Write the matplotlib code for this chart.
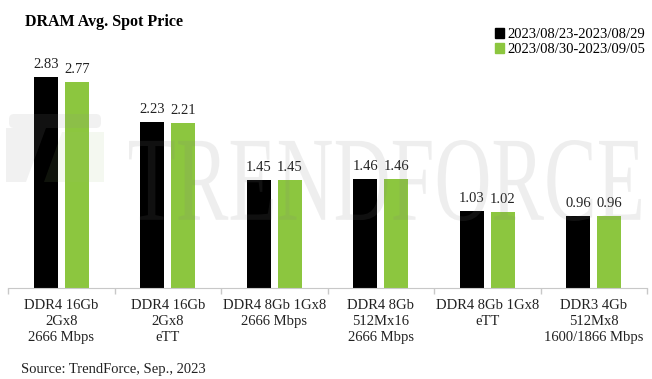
import matplotlib
matplotlib.use("Agg")
import matplotlib.pyplot as plt
from matplotlib.patches import Patch, PathPatch, Polygon, FancyBboxPatch
from matplotlib.textpath import TextPath
from matplotlib.font_manager import FontProperties
from matplotlib.transforms import Affine2D
import numpy as np

plt.rcParams['font.family'] = ['Liberation Serif', 'DejaVu Serif']

categories = ["DDR4 16Gb\n2Gx8\n2666 Mbps", "DDR4 16Gb\n2Gx8\neTT", "DDR4 8Gb 1Gx8\n2666 Mbps",
              "DDR4 8Gb\n512Mx16\n2666 Mbps", "DDR4 8Gb 1Gx8\neTT", "DDR3 4Gb\n512Mx8\n1600/1866 Mbps"]
week1 = [2.83, 2.23, 1.45, 1.46, 1.03, 0.96]
week2 = [2.77, 2.21, 1.45, 1.46, 1.02, 0.96]
series_names = ["2023/08/23-2023/08/29", "2023/08/30-2023/09/05"]
colors = ["#000000", "#8cc63f"]

W, H = 652, 379
fig = plt.figure(figsize=(W/100, H/100), dpi=100)
ax_l, ax_r, ax_b, ax_t = 8, 647, 288, 40
ax = fig.add_axes([ax_l/W, (H-ax_b)/H, (ax_r-ax_l)/W, (ax_b-ax_t)/H])

x = np.arange(len(categories))
bw = 0.225
off = 0.145
b1 = ax.bar(x - off, week1, bw, color=colors[0], zorder=2)
b2 = ax.bar(x + off, week2, bw, color=colors[1], zorder=2)
for bars, vals in ((b1, week1), (b2, week2)):
    for r, v in zip(bars, vals):
        ax.annotate(f"{v:.2f}", (r.get_x() + r.get_width()/2, v), xytext=(0, 6.5),
                    textcoords="offset points", ha="center", va="baseline", fontsize=10.5, color="#222222")

ax.set_xlim(-0.5, len(categories) - 0.5)
ax.set_ylim(0, (ax_b - ax_t) / 74.5)
ax.set_yticks([])
for s in ("top", "right", "left"):
    ax.spines[s].set_visible(False)
ax.spines["bottom"].set_color("#c8c8c8")
ax.set_xticks(x, categories, fontsize=10.5, color="#222222", linespacing=1.3)
ax.tick_params(axis="x", which="major", length=0, pad=8)
ax.set_xticks(np.arange(-0.5, len(categories)), minor=True)
ax.tick_params(axis="x", which="minor", length=4, color="#c8c8c8", width=1)

fig.text(25/W, 1 - 22/H, "DRAM Avg. Spot Price", fontsize=11.5, fontweight="bold", va="center", ha="left")
fig.text(21/W, 1 - 369/H, "Source: TrendForce, Sep., 2023", fontsize=10.5, va="center", ha="left", color="#222222")

handles = [Patch(color=c) for c in colors]
fig.legend(handles, series_names, loc="upper right", bbox_to_anchor=(645/W, 1 - 28/H), frameon=False,
           fontsize=10.5, handlelength=0.65, handleheight=0.65, handletextpad=0.2, labelspacing=0.15,
           borderaxespad=0, borderpad=0)

# watermark
tp = TextPath((0, 0), "TRENDFORCE", size=100, prop=FontProperties(family="Liberation Serif"))
bb = tp.get_extents()
sx = (641 - 129) / bb.width
sy = (221 - 140) / bb.height
tr = Affine2D().translate(-bb.x0, -bb.y0).scale(sx, sy).translate(129, H - 221)
fig.add_artist(PathPatch(tp, transform=tr, facecolor="#808080", edgecolor="none", alpha=0.13, zorder=5))
logo_top = FancyBboxPatch((9, H-128), 92, 14, boxstyle="round,pad=0,rounding_size=5", transform=None,
                          facecolor="#909090", edgecolor="none", alpha=0.12, zorder=5)
fig.add_artist(logo_top)
logo_left = Polygon([(6, H-128), (46, H-128), (26, H-182), (6, H-182)], closed=True, transform=None,
                    facecolor="#909090", edgecolor="none", alpha=0.12, zorder=5)
fig.add_artist(logo_left)
logo_right = Polygon([(62, H-132), (104, H-132), (104, H-182), (44, H-182)], closed=True, transform=None,
                     facecolor="#9cc070", edgecolor="none", alpha=0.10, zorder=5)
fig.add_artist(logo_right)

fig.savefig("out.png", dpi=100)
